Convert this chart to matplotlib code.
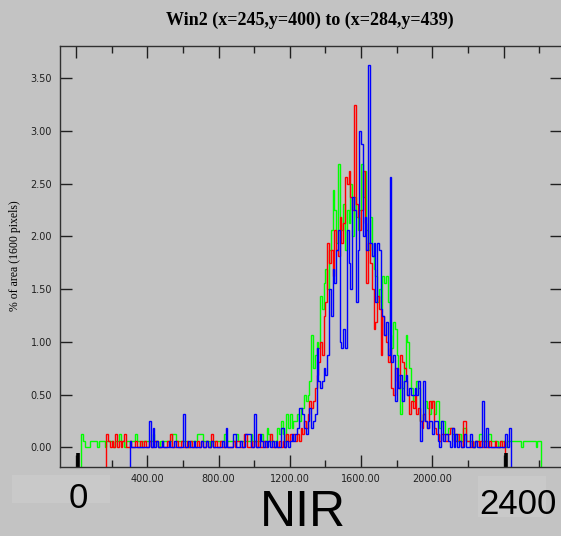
import numpy as np
import matplotlib.pyplot as plt
from matplotlib.patches import Rectangle

# ====================== data ======================
# pixel counts per 10-unit NIR bin (window is 40x40 = 1600 pixels)
BIN_WIDTH = 10
TOTAL_PIXELS = 1600

GREEN_START = 30
GREEN_COUNTS = [
    2, 1, 0, 0, 0, 1, 1, 1, 1, 0, 1, 1, 1, 0, 1, 1, 1,
    1, 0, 1, 1, 2, 1, 1, 0, 1, 1, 1, 1, 1, 2, 1, 1, 0, 1, 1, 1,
    1, 1, 1, 2, 1, 1, 0, 1, 1, 1, 1, 1, 1, 1, 2, 2, 1, 1, 1, 1,
    1, 1, 1, 0, 1, 1, 1, 1, 2, 2, 2, 1, 1, 1, 1, 0, 1, 1, 1, 1,
    1, 1, 1, 2, 1, 1, 1, 1, 1, 1, 2, 1, 1, 1, 1, 1, 1, 1, 2, 1,
    1, 1, 1, 1, 2, 1, 1, 3, 2, 1, 1, 1, 1, 3, 2, 4, 2, 1, 5, 3,
    5, 3, 4, 4, 5, 4, 6, 6, 8, 7, 8, 10, 17, 12, 14, 16, 15, 23, 21, 25,
    27, 24, 30, 33, 39, 36, 31, 43, 35, 33, 37, 30, 36, 34, 40, 32, 38, 35, 33, 36,
    43, 38, 42, 33, 30, 35, 29, 27, 26, 22, 24, 21, 26, 25, 26, 22, 17, 15, 19, 18,
    14, 11, 5, 9, 12, 17, 16, 12, 9, 7, 8, 10, 9, 4, 4, 5, 7, 6, 5, 7,
    7, 5, 7, 7, 3, 4, 4, 2, 2, 3, 3, 2, 1, 2, 1, 2, 1, 3, 3, 1,
    1, 1, 1, 0, 1, 1, 2, 2, 1, 1, 1, 2, 2, 1, 1, 1, 1, 0, 1, 1,
    1, 0, 1, 1, 1, 1, 1, 1, 1, 1, 0, 1, 1, 1, 1, 1, 1, 1, 0, 1,
    1,
]

RED_START = 170
RED_COUNTS = [
    2, 1, 0,
    1, 0, 2, 0, 1, 0, 1, 2, 0, 0, 1, 0, 0, 1, 0, 0, 1, 0, 1, 0,
    0, 1, 0, 0, 1, 1, 0, 0, 1, 0, 0, 1, 0, 2, 0, 0, 1, 0, 0, 1,
    0, 0, 1, 0, 1, 0, 0, 0, 1, 0, 1, 0, 0, 1, 0, 0, 2, 0, 1, 0,
    0, 1, 0, 0, 1, 0, 0, 0, 1, 0, 1, 1, 0, 0, 2, 2, 0, 0, 1, 0,
    1, 0, 2, 0, 0, 1, 0, 1, 1, 2, 0, 0, 1, 0, 1, 0, 1, 0, 2, 1,
    2, 1, 2, 1, 2, 1, 3, 2, 4, 3, 5, 7, 6, 7, 9, 11, 13, 16, 14, 20,
    22, 31, 28, 30, 26, 33, 30, 29, 35, 31, 34, 41, 40, 42, 38, 36, 52, 37, 35, 33,
    36, 42, 34, 25, 31, 28, 24, 18, 19, 23, 21, 14, 20, 17, 16, 13, 15, 9, 8, 12,
    10, 9, 14, 13, 12, 10, 8, 5, 7, 6, 8, 5, 6, 4, 3, 5, 4, 3, 7, 6,
    7, 3, 2, 2, 1, 2, 2, 1, 1, 2, 3, 3, 1, 1, 2, 1, 0, 4, 4, 1,
    1, 0, 1, 0, 1, 1, 0, 1, 0, 1, 0, 0, 1, 0, 0, 1, 0, 0, 1, 0,
    1,
]

BLUE_START = 300
BLUE_COUNTS = [
    1, 0, 0, 0, 0, 0, 0, 0, 0, 0,
    0, 4, 0, 3, 0, 1, 0, 0, 1, 0, 0, 0, 1, 0, 0, 1, 0, 0, 0, 0,
    5, 0, 0, 1, 0, 0, 1, 0, 0, 0, 1, 0, 0, 1, 0, 0, 1, 0, 0, 0,
    0, 0, 1, 0, 3, 0, 0, 0, 2, 2, 0, 0, 1, 0, 0, 2, 2, 2, 0, 0,
    5, 0, 0, 2, 1, 0, 1, 0, 1, 0, 1, 0, 1, 0, 0, 3, 3, 0, 1, 0,
    1, 2, 1, 2, 3, 6, 6, 5, 3, 2, 4, 6, 3, 4, 5, 15, 10, 9, 10, 12,
    11, 14, 24, 20, 27, 25, 30, 33, 16, 15, 18, 15, 33, 28, 24, 38, 36, 22, 30, 48,
    46, 32, 35, 30, 58, 31, 29, 31, 22, 31, 30, 21, 20, 17, 19, 14, 41, 13, 14, 7,
    12, 9, 11, 7, 10, 11, 8, 9, 8, 8, 9, 8, 10, 1, 4, 10, 4, 3, 4, 4,
    2, 4, 4, 1, 0, 4, 1, 2, 2, 1, 0, 3, 0, 2, 0, 1, 0, 0, 2, 0,
    0, 2, 0, 0, 1, 0, 0, 0, 7, 0, 3, 0, 0, 0, 0, 0, 0, 0, 0, 0,
    0, 2, 0, 3,
]

Y_TICKS = [0.0, 0.5, 1.0, 1.5, 2.0, 2.5, 3.0, 3.5]
X_TICKS = [0, 400, 800, 1200, 1600, 2000, 2400]
X_TICK_LABELS = ['', '400.00', '800.00', '1200.00', '1600.00', '2000.00', '']
RANGE_MARKS = [9, 2413]

TITLE = 'Win2 (x=245,y=400) to (x=284,y=439)'
Y_LABEL = '% of area (1600 pixels)'

# ====================== figure ======================
W, H = 561, 536
BG = '#c3c3c3'
fig = plt.figure(figsize=(W / 100, H / 100), dpi=100, facecolor=BG)
ax = fig.add_axes([59.5 / W, 69 / H, 502.5 / W, 421 / H])
ax.set_facecolor(BG)

XMIN, XMAX = -93, 2728
YMIN, YMAX = -0.187, 3.807
ax.set_xlim(XMIN, XMAX)
ax.set_ylim(YMIN, YMAX)


def draw_series(start, counts, color):
    vals = np.array(counts) / TOTAL_PIXELS * 100
    edges = start + BIN_WIDTH * np.arange(len(vals) + 1)
    ax.stairs(vals, edges, baseline=YMIN - 0.2, color=color, lw=1.0)


draw_series(GREEN_START, GREEN_COUNTS, '#00ff00')
draw_series(RED_START, RED_COUNTS, '#ff0000')
draw_series(BLUE_START, BLUE_COUNTS, '#0000ff')

ax.vlines(RANGE_MARKS, YMIN, -0.055, colors='black', lw=2.6)

# axes styling
for s in ax.spines.values():
    s.set_color('#303030')
    s.set_linewidth(1.0)
ax.set_xticks(X_TICKS)
ax.set_xticklabels(X_TICK_LABELS)
ax.set_xticks(np.arange(200, 2800, 400), minor=True)
ax.set_yticks(Y_TICKS)
ax.set_yticklabels(['%.2f' % v for v in Y_TICKS])
ax.tick_params(which='both', direction='in', top=True, right=True,
               color='#202020', width=1.0, labelcolor='#202020', labelsize=7)
ax.tick_params(which='major', length=8.5)
ax.tick_params(which='minor', length=5)
ax.tick_params(axis='x', pad=5)
ax.tick_params(axis='y', pad=5.4)

fig.text(310 / W, 1 - 20 / H, TITLE, ha='center', va='center',
         family='Liberation Serif', fontweight='bold', fontsize=13)
fig.text(15 / W, 1 - 256 / H, Y_LABEL, ha='center', va='center', rotation=90,
         family='Liberation Serif', fontsize=8.5)

# light boxes and big labels under the axis
fig.add_artist(Rectangle((12 / W, 1 - 503 / H), 98 / W, 28 / H, transform=fig.transFigure,
                         facecolor='#c9c9c9', edgecolor='none'))
fig.add_artist(Rectangle((478 / W, 1 - 517 / H), 68 / W, 41 / H, transform=fig.transFigure,
                         facecolor='#c9c9c9', edgecolor='none'))
fig.text(78.5 / W, 1 - 508 / H, '0', ha='center', va='baseline',
         family='Liberation Sans', fontsize=25)
fig.text(518 / W, 1 - 514 / H, '2400', ha='center', va='baseline',
         family='Liberation Sans', fontsize=25)
fig.text(303 / W, 1 - 526 / H, 'NIR', ha='center', va='baseline',
         family='Liberation Sans', fontsize=36)

fig.savefig('out.png', dpi=100, facecolor=BG)
